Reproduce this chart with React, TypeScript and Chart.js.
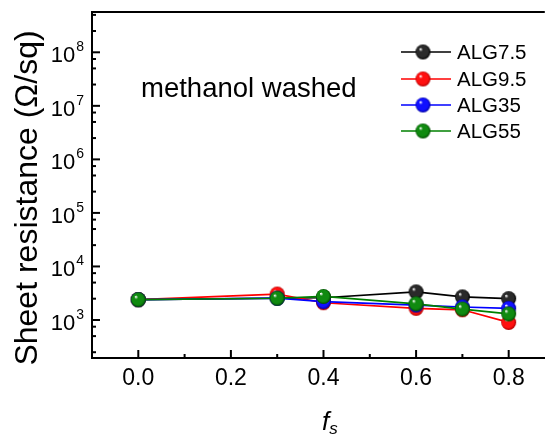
import React, { useEffect, useRef } from "react";
import { Chart, registerables } from "chart.js";

Chart.register(...registerables);

const xValues = [0, 0.3, 0.4, 0.6, 0.7, 0.8];
const alg75 = [2400, 2550, 2600, 3350, 2700, 2500];
const alg95 = [2400, 3050, 2100, 1650, 1550, 900];
const alg35 = [2400, 2550, 2200, 1900, 1750, 1650];
const alg55 = [2400, 2550, 2750, 2000, 1600, 1300];
const seriesNames = ["ALG7.5", "ALG9.5", "ALG35", "ALG55"];
const seriesColors = ["#000000", "#ff0000", "#0000ff", "#008000"];
const sphereBase = ["#2a2a2a", "#ff1010", "#1010ff", "#108a10"];
const sphereDark = ["#000000", "#b00000", "#0000a0", "#004a00"];
const xMajorTicks = [0, 0.2, 0.4, 0.6, 0.8];
const xMinorTicks = [0.1, 0.3, 0.5, 0.7];
const yExponents = [3, 4, 5, 6, 7, 8];
const yMinorFactors = [2.5, 5, 7.5];
const yMinorExponents = [2, 3, 4, 5, 6, 7, 8];
const annotation = "methanol washed";
const yTitle = "Sheet resistance (\u03A9/sq)";

const FONT = "'Liberation Sans', Arial, Helvetica, sans-serif";

function makeSphere(base: string, dark: string, r: number) {
  const c = document.createElement("canvas");
  const s = Math.ceil(r * 2 + 2);
  c.width = s;
  c.height = s;
  const ctx = c.getContext("2d")!;
  const cx = s / 2;
  const cy = s / 2;
  const g = ctx.createRadialGradient(cx - r * 0.35, cy - r * 0.4, r * 0.05, cx, cy, r);
  g.addColorStop(0, "#ffffff");
  g.addColorStop(0.22, base);
  g.addColorStop(0.75, base);
  g.addColorStop(1, dark);
  ctx.fillStyle = g;
  ctx.beginPath();
  ctx.arc(cx, cy, r, 0, Math.PI * 2);
  ctx.fill();
  return c;
}

export default function App() {
  const ref = useRef<HTMLCanvasElement | null>(null);

  useEffect(() => {
    const canvas = ref.current;
    if (!canvas) return;
    const spheres = seriesColors.map((_, i) => makeSphere(sphereBase[i], sphereDark[i], 7.5));
    const series = [alg75, alg95, alg35, alg55];

    const decorations = {
      id: "decorations",
      afterDraw(chart: any) {
        const ctx = chart.ctx;
        const area = chart.chartArea;
        const xs = chart.scales.x;
        const ys = chart.scales.y;
        ctx.save();
        // top frame line
        ctx.strokeStyle = "#000";
        ctx.lineWidth = 2;
        ctx.beginPath();
        ctx.moveTo(area.left - 1, area.top);
        ctx.lineTo(area.right, area.top);
        ctx.stroke();
        // x ticks (inward)
        xMajorTicks.forEach((v) => {
          const px = xs.getPixelForValue(v);
          ctx.beginPath();
          ctx.moveTo(px, area.bottom);
          ctx.lineTo(px, area.bottom - 8);
          ctx.stroke();
        });
        xMinorTicks.forEach((v) => {
          const px = xs.getPixelForValue(v);
          ctx.beginPath();
          ctx.moveTo(px, area.bottom);
          ctx.lineTo(px, area.bottom - 4);
          ctx.stroke();
        });
        // y ticks (inward)
        yExponents.forEach((e) => {
          const py = ys.getPixelForValue(Math.pow(10, e));
          ctx.beginPath();
          ctx.moveTo(area.left, py);
          ctx.lineTo(area.left + 8, py);
          ctx.stroke();
        });
        yMinorExponents.forEach((e) => {
          yMinorFactors.forEach((f) => {
            const v = f * Math.pow(10, e);
            if (v < ys.min || v > ys.max) return;
            const py = ys.getPixelForValue(v);
            ctx.beginPath();
            ctx.moveTo(area.left, py);
            ctx.lineTo(area.left + 4, py);
            ctx.stroke();
          });
        });
        // x tick labels
        ctx.fillStyle = "#000";
        ctx.font = `23px ${FONT}`;
        ctx.textAlign = "center";
        ctx.textBaseline = "alphabetic";
        xMajorTicks.forEach((v) => {
          const px = xs.getPixelForValue(v);
          ctx.fillText(v.toFixed(1), px, area.bottom + 27);
        });
        // y tick labels 10^n
        yExponents.forEach((e) => {
          const py = ys.getPixelForValue(Math.pow(10, e));
          ctx.font = `14px ${FONT}`;
          ctx.textAlign = "left";
          const expText = String(e);
          const ew = ctx.measureText(expText).width;
          const expX = area.left - 8 - ew;
          ctx.fillText(expText, expX, py - 1);
          ctx.font = `22px ${FONT}`;
          ctx.textAlign = "right";
          ctx.fillText("10", expX - 1, py + 10);
        });
        // y title
        ctx.save();
        ctx.translate(37, 198);
        ctx.rotate(-Math.PI / 2);
        ctx.font = `32px ${FONT}`;
        ctx.textAlign = "center";
        ctx.fillText(yTitle, 0, 0);
        ctx.restore();
        // x title f_s
        ctx.font = `italic 26px ${FONT}`;
        ctx.textAlign = "left";
        ctx.fillText("f", 322, 430);
        const fw = ctx.measureText("f").width;
        ctx.font = `italic 17px ${FONT}`;
        ctx.fillText("s", 322 + fw, 434);
        // annotation
        ctx.font = `27.5px ${FONT}`;
        ctx.textAlign = "left";
        ctx.fillText(annotation, 141, 97);
        // legend
        const rowY = [52, 79, 105, 131];
        seriesNames.forEach((name, i) => {
          const y = rowY[i];
          ctx.strokeStyle = seriesColors[i];
          ctx.lineWidth = 1.7;
          ctx.beginPath();
          ctx.moveTo(401, y);
          ctx.lineTo(451, y);
          ctx.stroke();
          const img = spheres[i];
          ctx.drawImage(img, 423 - img.width / 2, y - img.height / 2);
          ctx.fillStyle = "#000";
          ctx.font = `20.5px ${FONT}`;
          ctx.textAlign = "left";
          ctx.fillText(name, 457, y + 7);
        });
        ctx.restore();
      },
    };

    const chart = new Chart(canvas, {
      type: "line",
      data: {
        datasets: series.map((arr, i) => ({
          label: seriesNames[i],
          data: xValues.map((x, j) => ({ x, y: arr[j] })),
          borderColor: seriesColors[i],
          backgroundColor: seriesColors[i],
          borderWidth: 1.7,
          pointStyle: spheres[i] as any,
          pointRadius: 7.5,
          order: 3 - i,
          tension: 0,
        })),
      },
      options: {
        responsive: false,
        animation: false,
        events: [],
        layout: { padding: { left: 92, top: 12, right: 0, bottom: 83 } },
        plugins: { legend: { display: false }, tooltip: { enabled: false } },
        scales: {
          x: {
            type: "linear",
            min: -0.1,
            max: 0.878,
            grid: { display: false },
            ticks: { display: false },
            border: { display: true, color: "#000", width: 2 },
            afterFit: (s: any) => {
              s.height = 0;
            },
          },
          y: {
            type: "logarithmic",
            min: 195,
            max: 5.66e8,
            grid: { display: false },
            ticks: { display: false },
            border: { display: true, color: "#000", width: 2 },
            afterFit: (s: any) => {
              s.width = 0;
            },
          },
        },
      },
      plugins: [decorations],
    });
    return () => chart.destroy();
  }, []);

  return (
    <div style={{ position: "fixed", left: 0, top: 0, width: 554, height: 441, background: "#fff" }}>
      <canvas ref={ref} width={554} height={441} style={{ display: "block", width: 554, height: 441 }} />
    </div>
  );
}
